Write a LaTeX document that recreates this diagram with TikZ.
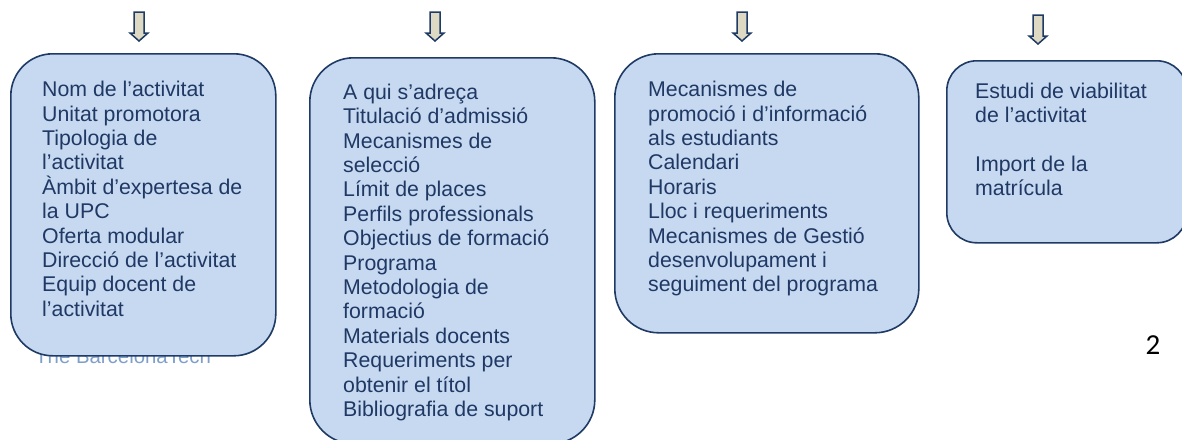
\documentclass[tikz,border=0pt]{standalone}
\usepackage{fontspec}
\setmainfont{Liberation Sans}
\newfontfamily\carlito{Carlito}
\definecolor{boxfill}{HTML}{C6D9F1}
\definecolor{boxline}{HTML}{1F3A64}
\definecolor{boxtext}{HTML}{1F3864}
\definecolor{arrfill}{HTML}{DDD9C3}
\definecolor{ghost}{HTML}{7F9FCB}
\tikzset{
  box/.style={draw=boxline, fill=boxfill, line width=1.6pt, anchor=north west, inner sep=0pt},
  txt/.style={anchor=base west, inner sep=0pt, text=boxtext, font=\fontsize{21.3}{24.4}\selectfont},
  downarrow/.style={draw=boxline, fill=arrfill, line width=1.5pt, line join=miter},
}
\begin{document}
\begin{tikzpicture}[x=1pt,y=-1pt]
\useasboundingbox (0,0) rectangle (1182,439);
\clip (0,0) rectangle (1182,439);
% ghost footer text behind box 1
\node[anchor=base west, inner sep=0pt, text=ghost, font=\fontsize{20.4}{24}\selectfont] (ghost) at (35,363) {The BarcelonaTech};
% arrows
\foreach \x/\d in {139/0,435/0,742/0,1038/3}{
  \draw[downarrow] (\x-5,12+\d) -- (\x+5,12+\d) -- (\x+5,33+\d) -- (\x+9,33+\d) -- (\x,41+\d) -- (\x-9,33+\d) -- (\x-5,33+\d) -- cycle;
}
% boxes
\node[box, rounded corners=42pt, minimum width=265pt, minimum height=302pt] (b1) at (10,53) {};
\node[box, rounded corners=44pt, minimum width=285pt, minimum height=386pt] (b2) at (309,57) {};
\node[box, rounded corners=44pt, minimum width=304pt, minimum height=279pt] (b3) at (614,53) {};
\node[box, rounded corners=30pt, minimum width=240pt, minimum height=182pt] (b4) at (946,60) {};
% texts
\node[txt] (t1) at (42,96.7) {\vtop{%
\hbox{Nom de l’activitat}
\hbox{Unitat promotora}
\hbox{Tipologia de}
\hbox{l’activitat}
\hbox{Àmbit d’expertesa de}
\hbox{la UPC}
\hbox{Oferta modular}
\hbox{Direcció de l’activitat}
\hbox{Equip docent de}
\hbox{l’activitat}}};
\node[txt] (t2) at (343,99.3) {\vtop{%
\hbox{A qui s’adreça}
\hbox{Titulació d’admissió}
\hbox{Mecanismes de}
\hbox{selecció}
\hbox{Límit de places}
\hbox{Perfils professionals}
\hbox{Objectius de formació}
\hbox{Programa}
\hbox{Metodologia de}
\hbox{formació}
\hbox{Materials docents}
\hbox{Requeriments per}
\hbox{obtenir el títol}
\hbox{Bibliografia de suport}}};
\node[txt] (t3) at (648,96.7) {\vtop{%
\hbox{Mecanismes de}
\hbox{promoció i d’informació}
\hbox{als estudiants}
\hbox{Calendari}
\hbox{Horaris}
\hbox{Lloc i requeriments}
\hbox{Mecanismes de Gestió}
\hbox{desenvolupament i}
\hbox{seguiment del programa}}};
\node[txt] (t4) at (975,98.3) {\vtop{%
\hbox{Estudi de viabilitat}
\hbox{de l’activitat}
\hbox{}
\hbox{Import de la}
\hbox{matrícula}}};
% page number
\node[anchor=base, inner sep=0pt, font=\carlito\fontsize{29}{32}\selectfont] (pg) at (1153,354) {2};
\end{tikzpicture}
\end{document}
